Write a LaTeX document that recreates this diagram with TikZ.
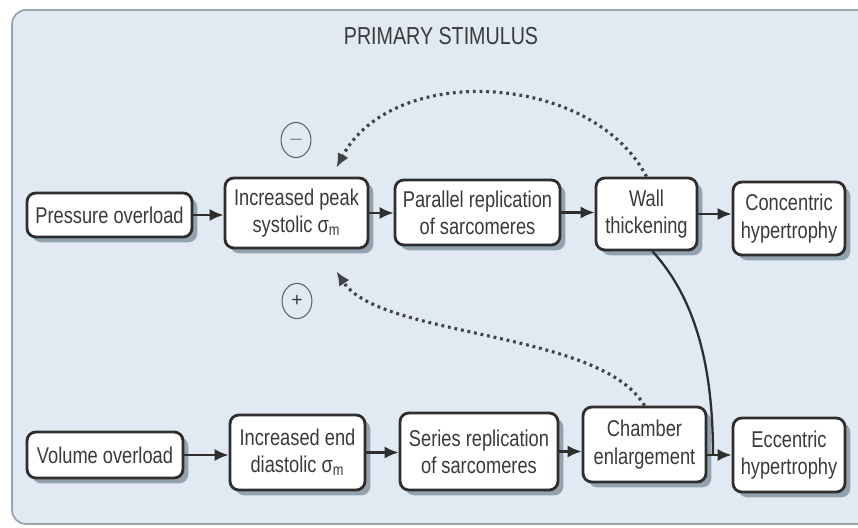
\documentclass[tikz,border=0pt]{standalone}
\usepackage{fontspec}
\setmainfont{Liberation Sans}
\newfontfamily\condfont[FakeStretch=0.8]{Liberation Sans}
\usetikzlibrary{shadows,calc,arrows.meta,shapes.geometric}
\definecolor{panelbg}{HTML}{E1EAF2}
\definecolor{panelborder}{HTML}{9AA4AC}
\definecolor{boxline}{HTML}{2E2E2E}
\definecolor{txt}{HTML}{3A3A3A}
\definecolor{shadowc}{HTML}{5E7382}
\tikzset{
  stagebox/.style={draw=boxline, line width=1.6pt, fill=white, rounded corners=5pt,
    align=center, text=txt, inner sep=1pt,
    font=\condfont\fontsize{13}{15.5}\selectfont,
    drop shadow={shadow xshift=3pt, shadow yshift=-3pt, fill=shadowc, opacity=0.6}},
  flowarrow/.style={draw=boxline, line width=1.5pt, -{Latex[length=8pt,width=7pt]}},
  solidline/.style={draw=boxline, line width=1.3pt},
  fbarrow/.style={draw=boxline!90, line width=1.8pt, dash pattern=on 1.6pt off 2.2pt,
    -{Latex[length=8pt,width=7pt]}},
  signmark/.style={draw=txt!80, line width=0.6pt, ellipse, minimum width=17pt, minimum height=20pt,
    inner sep=0pt, font=\fontsize{11}{11}\selectfont, text=txt}
}
\begin{document}
\begin{tikzpicture}[x=0.02cm,y=-0.02cm]
\useasboundingbox (0,0) rectangle (858,527);
\fill[white] (0,0) rectangle (858,527);
\draw[fill=panelbg, draw=panelborder, line width=1pt, rounded corners=8pt] (12,10) rectangle (880,524);

\node[text=txt, font=\condfont\fontsize{14}{14}\selectfont] (title) at (441,36) {PRIMARY STIMULUS};

% top row
\node[stagebox, minimum width=3.3cm, minimum height=0.88cm] (press) at (109.5,215) {Pressure overload};
\node[stagebox, minimum width=2.86cm, minimum height=1.4cm] (peak) at (296.5,213) {Increased peak\\systolic σ\textsubscript{m}};
\node[stagebox, minimum width=3.3cm, minimum height=1.3cm] (para) at (477.5,212.5) {Parallel replication\\of sarcomeres};
\node[stagebox, minimum width=2.02cm, minimum height=1.44cm] (wall) at (646.5,214) {Wall\\thickening};
\node[stagebox, minimum width=2.24cm, minimum height=1.46cm] (conc) at (789,218.5) {Concentric\\hypertrophy};

% bottom row
\node[stagebox, minimum width=3.12cm, minimum height=0.92cm] (vol) at (105,455) {Volume overload};
\node[stagebox, minimum width=2.7cm, minimum height=1.5cm] (endd) at (297.5,452.5) {Increased end\\diastolic σ\textsubscript{m}};
\node[stagebox, minimum width=3.16cm, minimum height=1.54cm] (ser) at (479,451.5) {Series replication\\of sarcomeres};
\node[stagebox, minimum width=2.46cm, minimum height=1.5cm] (cham) at (644.5,444.5) {Chamber\\enlargement};
\node[stagebox, minimum width=2.24cm, minimum height=1.48cm] (ecc) at (789,455) {Eccentric\\hypertrophy};

% signs
\node[signmark] (minus) at (296,140) {$-$};
\node[signmark] (plus) at (297,301) {+};

% horizontal arrows
\draw[flowarrow] (press.east) -- (press.east -| peak.west);
\draw[flowarrow] (peak.east) -- (peak.east -| para.west);
\draw[flowarrow] (para.east) -- (para.east -| wall.west);
\draw[flowarrow] (wall.east) -- (wall.east -| conc.west);
\draw[flowarrow] (vol.east) -- (vol.east -| endd.west);
\draw[flowarrow] (endd.east) -- (endd.east -| ser.west);
\draw[flowarrow] (ser.east) -- (ser.east -| cham.west);
\coordinate (join) at (713,455);
\draw[flowarrow] (cham.east |- ecc.west) -- (ecc.west);

% solid curve from wall thickening to eccentric
\coordinate (wallout) at ($(wall.south)+(6,0)$);
\draw[solidline] (wallout) .. controls (697,300) and (713,370) .. (join);

% feedback dotted arrows
\coordinate (peaktop) at ($(peak.north)+(40,-9)$);
\coordinate (peakbot) at ($(peak.south)+(40,22)$);
\draw[fbarrow] (wall.north) .. controls (592,72) and (392,62) .. (peaktop);
\draw[fbarrow] (cham.north) .. controls (600,330) and (380,338) .. (peakbot);
\end{tikzpicture}
\end{document}
